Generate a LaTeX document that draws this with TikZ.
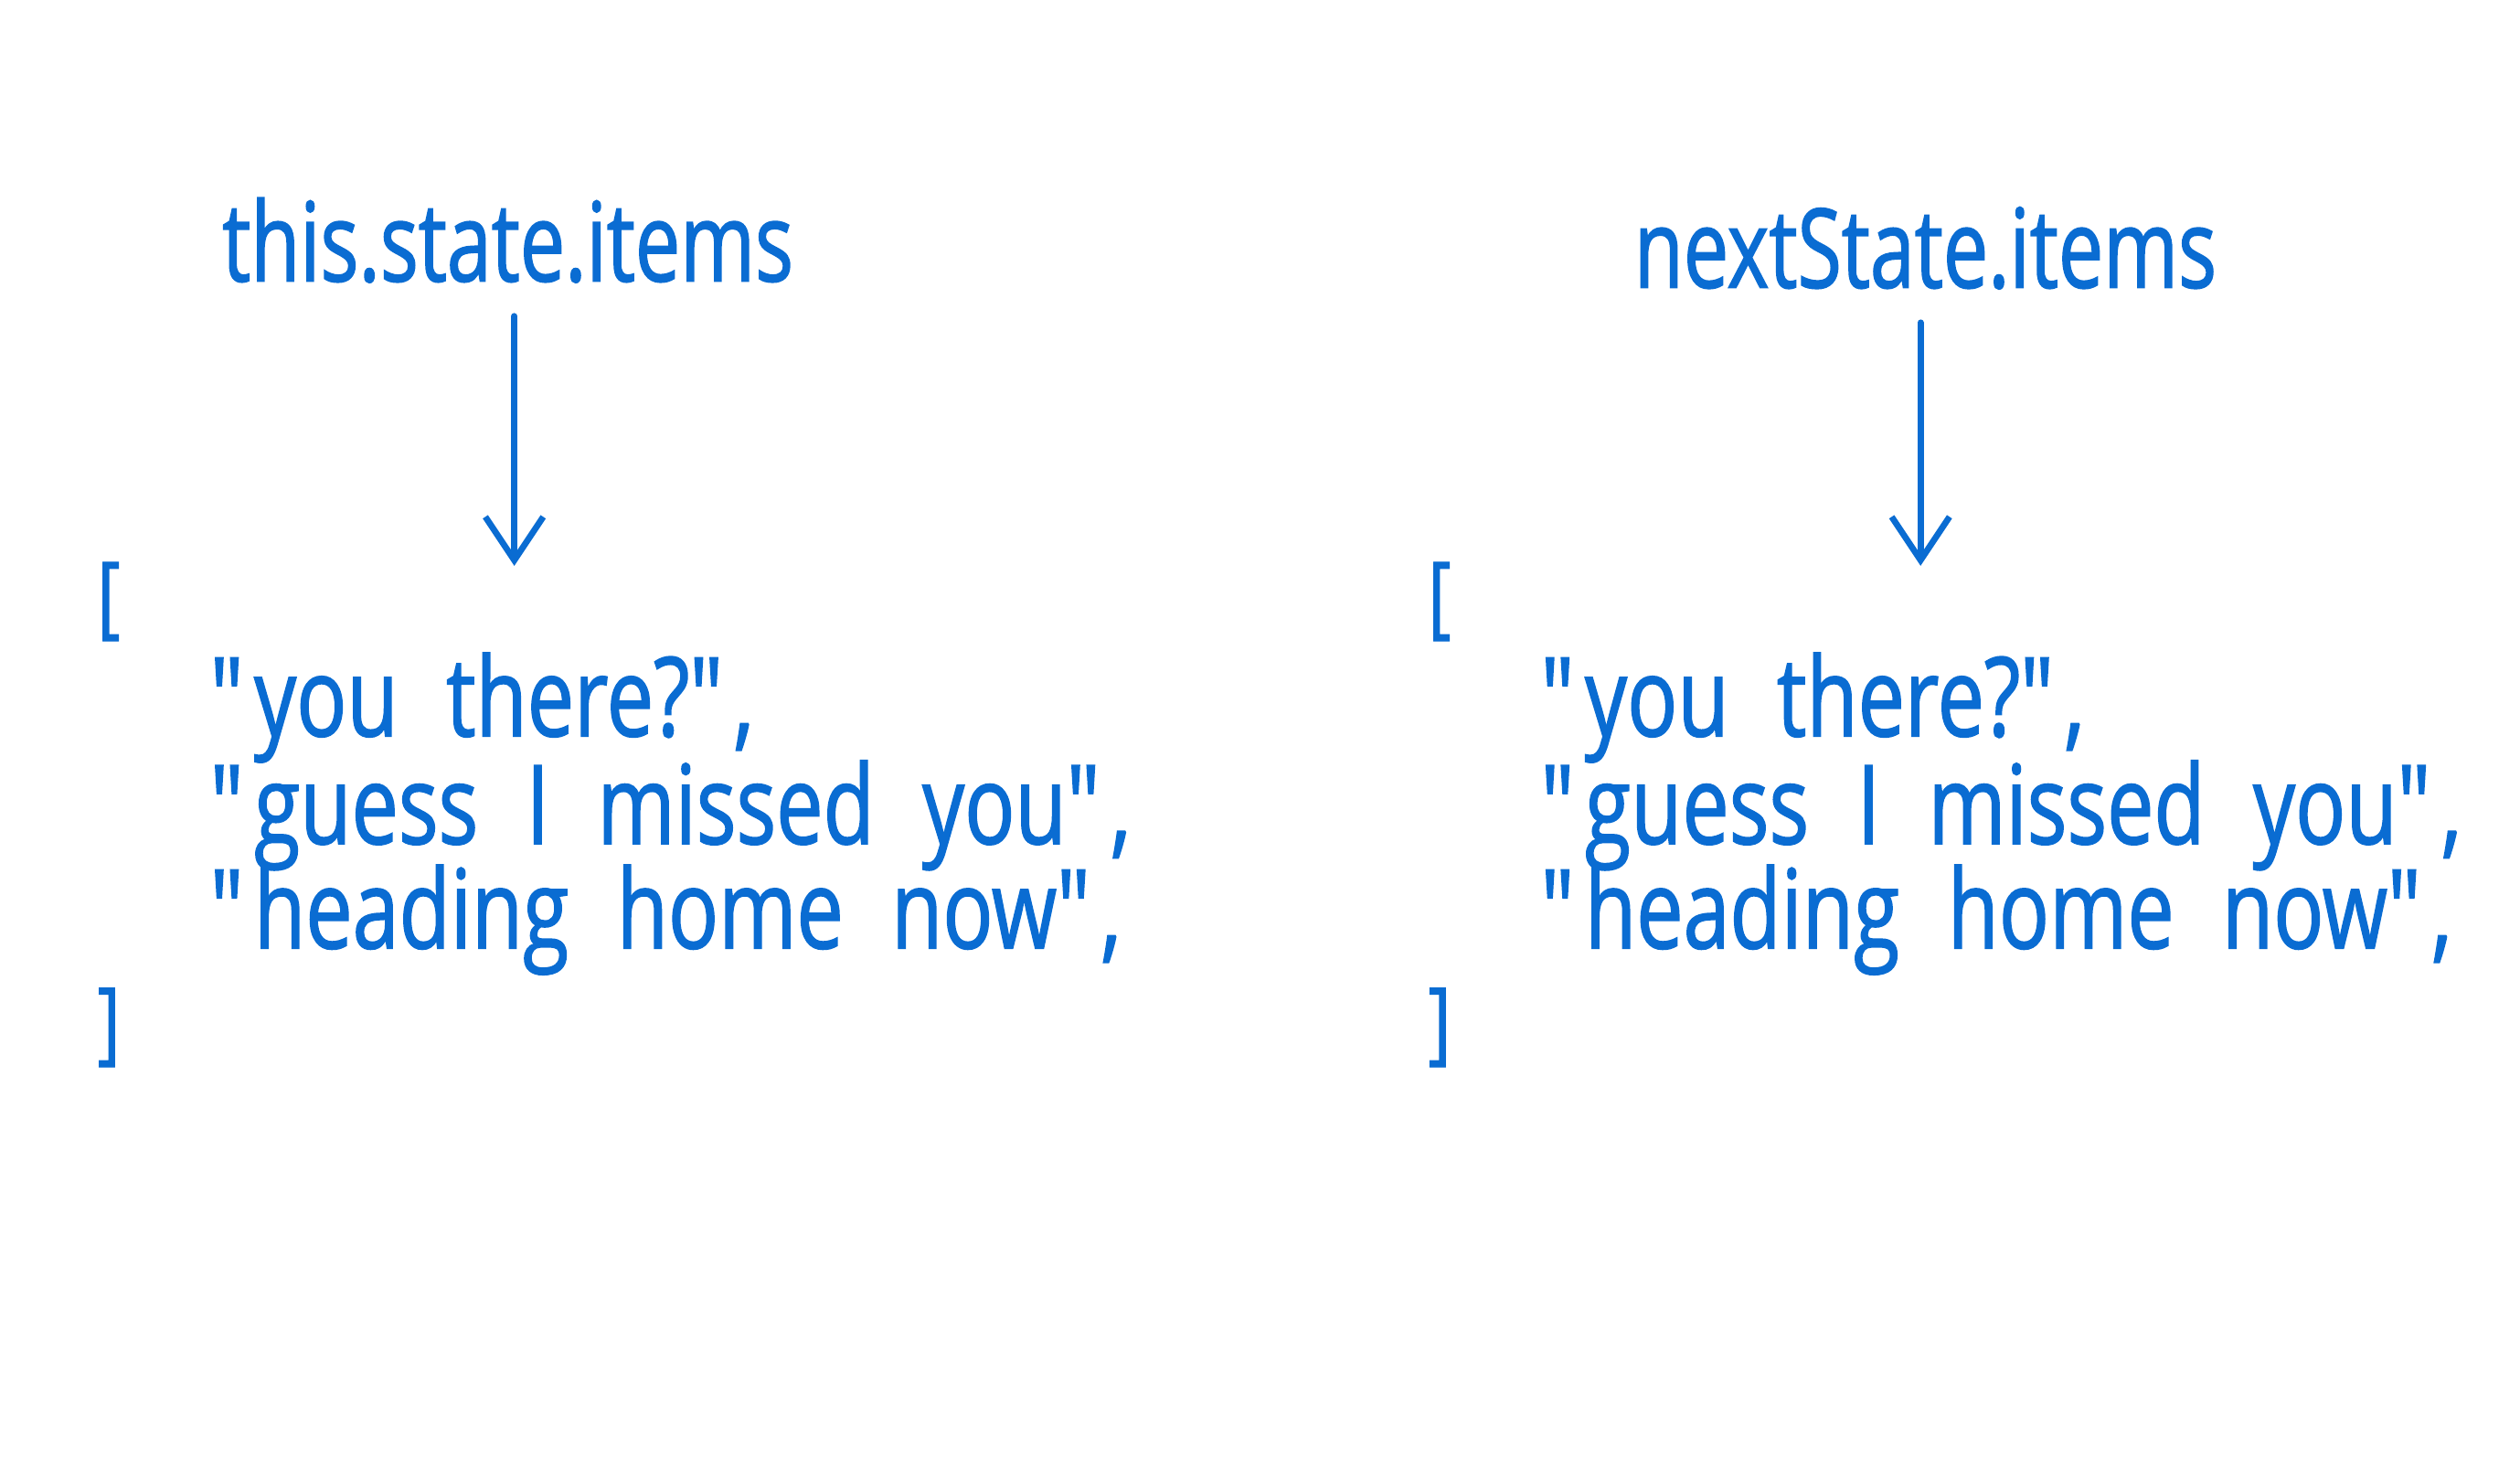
\documentclass[tikz,border=0pt]{standalone}
\usepackage{fontspec}
\setmainfont{Open Sans}[FakeStretch=0.76,WordSpace=2.2,FakeBold=1.2]
\newfontfamily\titlefont{Open Sans}[FakeStretch=0.73,FakeBold=1.2]
\usepackage{xcolor}
\usetikzlibrary{positioning,arrows.meta}

\definecolor{inkblue}{HTML}{0A6CD2}
\newcommand{\qq}{\textquotedbl}

\begin{document}
\begin{tikzpicture}[
    hand/.style={text=inkblue, font=\fontsize{19.5}{23}\selectfont, inner sep=0pt},
    title/.style={hand, font=\titlefont\fontsize{19.5}{23}\selectfont, inner sep=2mm},
    bracket/.style={hand, font=\fontsize{16}{19}\selectfont},
    pointer/.style={draw=inkblue, line width=1.1pt, line cap=round, line join=round,
      -{Straight Barb[length=2.7mm, width=3.6mm]}}
  ]
  \useasboundingbox (0, 0) rectangle (15.68, 9.15);

  % Left: this.state.items
  \node[title, anchor=base] (thisItems) at (3.16, 7.40) {this.state.items};
  \coordinate (thisTip) at (3.20, 5.63);
  \draw[pointer] (thisItems.south -| thisTip) -- (thisTip);
  \node[bracket, anchor=north west] (thisOpen) at (0.60, 5.66) {[};
  \node[hand, anchor=base west] (thisOne) at (1.30, 4.57) {\qq you there?\qq,};
  \node[hand, anchor=base west] (thisTwo) at (1.30, 3.90) {\qq guess I missed you\qq,};
  \node[hand, anchor=base west] (thisThree) at (1.30, 3.25) {\qq heading home now\qq,};
  \node[bracket, anchor=north west] (thisClose) at (0.60, 3.01) {]};

  % Right: nextState.items
  \node[title, anchor=base] (nextItems) at (11.98, 7.36) {nextState.items};
  \coordinate (nextTip) at (11.95, 5.63);
  \draw[pointer] (nextItems.south -| nextTip) -- (nextTip);
  \node[bracket, anchor=north west] (nextOpen) at (8.88, 5.66) {[};
  \node[hand, anchor=base west] (nextOne) at (9.58, 4.57) {\qq you there?\qq,};
  \node[hand, anchor=base west] (nextTwo) at (9.58, 3.90) {\qq guess I missed you\qq,};
  \node[hand, anchor=base west] (nextThree) at (9.58, 3.25) {\qq heading home now\qq,};
  \node[bracket, anchor=north west] (nextClose) at (8.88, 3.01) {]};
\end{tikzpicture}
\end{document}
